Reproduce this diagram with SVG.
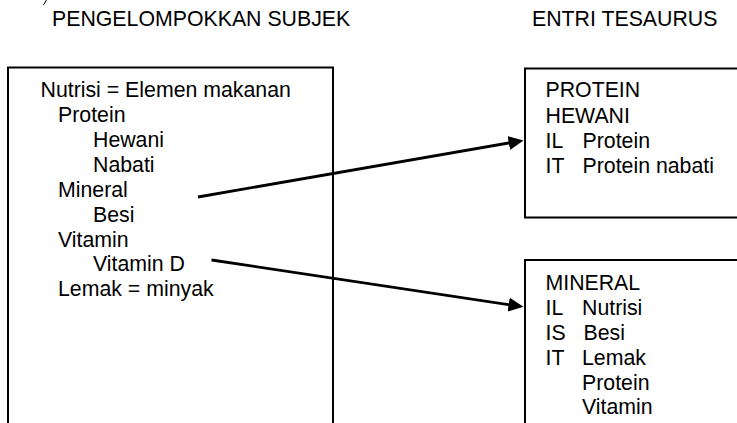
<svg xmlns="http://www.w3.org/2000/svg" width="737" height="423" viewBox="0 0 737 423">
<style>
text{font-family:"Liberation Sans",Arial,sans-serif;font-size:21.3px;fill:#000}
.box{fill:#fff;stroke:#000;stroke-width:2}
.conn{stroke:#000;stroke-width:2.8;fill:none}
</style>
<defs>
<marker id="ah" markerUnits="userSpaceOnUse" markerWidth="16" markerHeight="15" refX="4" refY="7" orient="auto">
<path d="M0,0 L15,7 L0,14 z" fill="#000"/>
</marker>
</defs>
<rect width="737" height="423" fill="#fff"/>
<path d="M46.5,0 L43.5,5" stroke="#000" stroke-width="1" fill="none"/>
<text x="52" y="25.5">PENGELOMPOKKAN SUBJEK</text>
<text x="532" y="25.5">ENTRI TESAURUS</text>
<g id="subjek">
<rect class="box" x="8" y="67.5" width="325" height="370"/>
<text x="40.5" y="96.5">Nutrisi = Elemen makanan</text>
<text x="58" y="121.5">Protein</text>
<text x="93" y="146.5">Hewani</text>
<text x="93" y="171.5">Nabati</text>
<text x="58" y="196.5">Mineral</text>
<text x="93" y="221.5">Besi</text>
<text x="58" y="246.5">Vitamin</text>
<text x="93" y="271">Vitamin D</text>
<text x="58" y="296">Lemak = minyak</text>
</g>
<g id="protein-hewani">
<rect class="box" x="525" y="68.5" width="230" height="149"/>
<text x="545.5" y="97">PROTEIN</text>
<text x="545.5" y="122.5">HEWANI</text>
<text x="545.5" y="147.5">IL</text>
<text x="582.5" y="147.5">Protein</text>
<text x="545.5" y="172.5">IT</text>
<text x="582.5" y="172.5">Protein nabati</text>
</g>
<g id="mineral">
<rect class="box" x="525" y="260" width="230" height="200"/>
<text x="545.5" y="290">MINERAL</text>
<text x="545.5" y="315">IL</text>
<text x="582" y="315">Nutrisi</text>
<text x="545.5" y="340">IS</text>
<text x="583.5" y="340">Besi</text>
<text x="545.5" y="365">IT</text>
<text x="582" y="365">Lemak</text>
<text x="582" y="390">Protein</text>
<text x="582" y="414">Vitamin</text>
</g>
<g id="connectors">
<line class="conn" x1="198" y1="197" x2="512.7" y2="142.3" marker-end="url(#ah)"/>
<line class="conn" x1="211.5" y1="260" x2="512.6" y2="305.2" marker-end="url(#ah)"/>
</g>
</svg>
